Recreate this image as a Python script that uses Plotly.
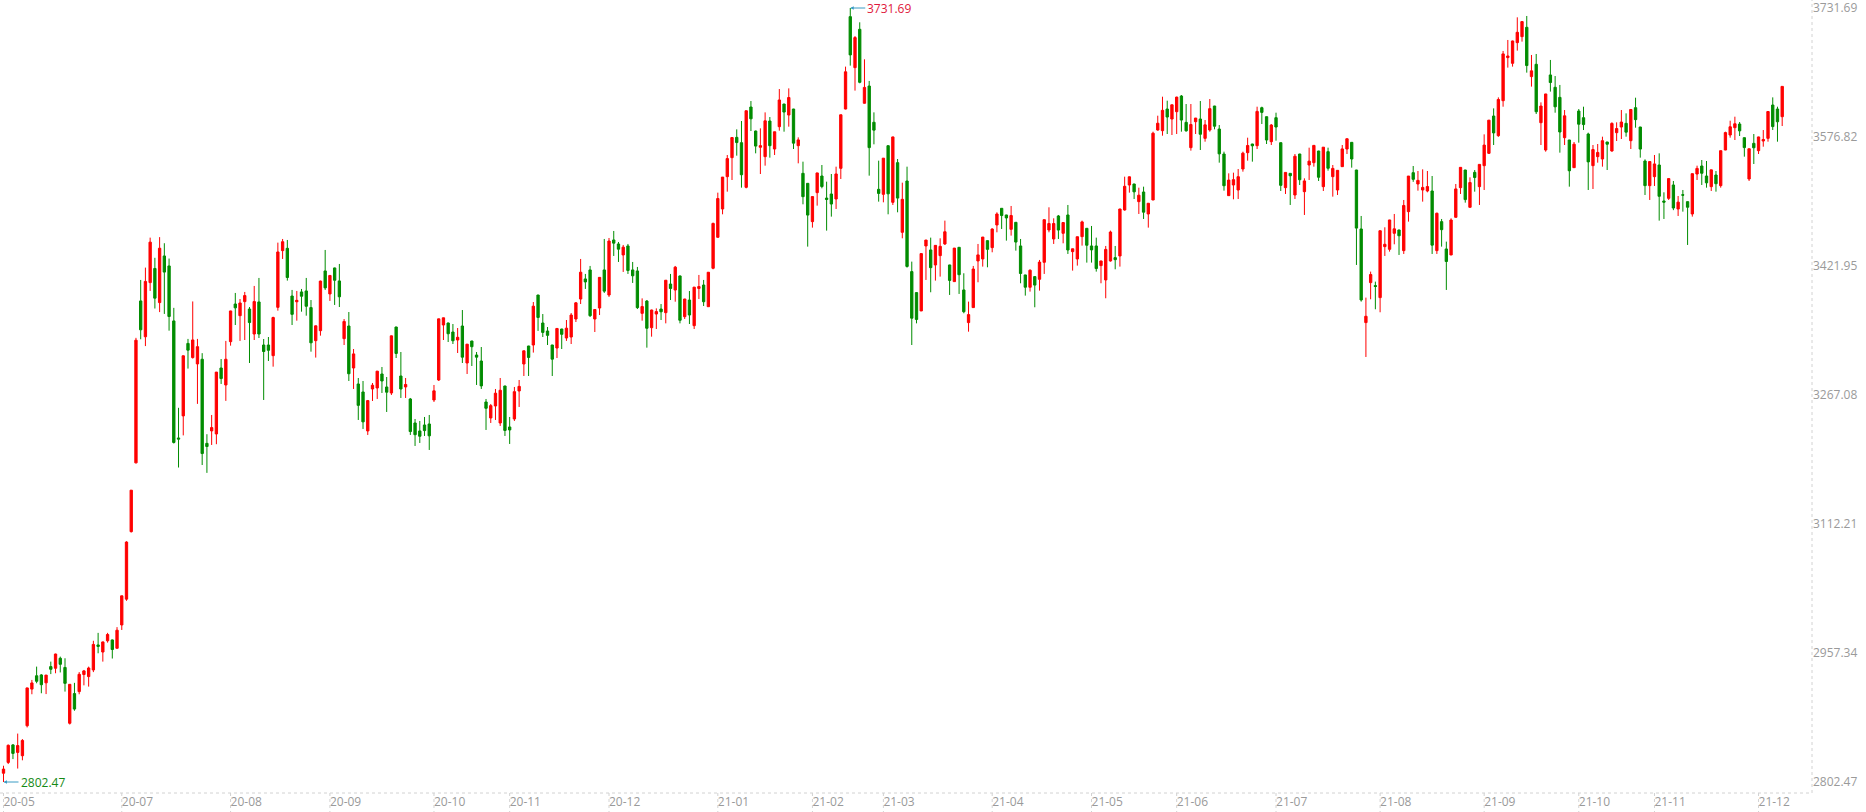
import pandas as pd
import plotly.graph_objects as go

# trading calendar: weekdays from 2020-05-25 to 2021-12-08 minus exchange holidays
START = "2020-05-25"
END = "2021-12-08"
HOLIDAYS = ["2020-06-25", "2020-06-26", "2020-10-01", "2020-10-02", "2020-10-05",
            "2020-10-06", "2020-10-07", "2020-10-08", "2021-01-01", "2021-02-11",
            "2021-02-12", "2021-02-15", "2021-02-16", "2021-02-17", "2021-04-05",
            "2021-05-03", "2021-05-04", "2021-05-05", "2021-06-14", "2021-09-20",
            "2021-09-21", "2021-10-01", "2021-10-04", "2021-10-05", "2021-10-06",
            "2021-10-07"]

OPEN = [
    2813.0, 2826.0, 2847.0, 2838.0, 2834.0, 2870.0, 2914.0, 2930.0, 2931.0, 2921.5,
    2941.0, 2939.0, 2951.0, 2940.0, 2873.0, 2908.6, 2911.0, 2931.5, 2929.0, 2937.0,
    2967.0, 2958.5, 2972.0, 2973.0, 2963.0, 2991.0, 3022.0, 3103.0, 3185.6, 3380.0,
    3337.0, 3402.0, 3419.0, 3378.0, 3434.0, 3422.0, 3356.0, 3215.5, 3242.0, 3329.0,
    3312.0, 3304.4, 3310.0, 3209.0,
    3224.0, 3220.3, 3299.5, 3279.1, 3331.1, 3376.3,
    3362.3, 3379.2, 3370.3, 3340.3, 3378.8, 3327.1, 3327.1, 3314.3, 3372.3, 3440.4,
    3443.2, 3385.9, 3379.0, 3390.8, 3392.0, 3372.0, 3332.3, 3344.3, 3416.0, 3388.4,
    3419.6, 3404.0, 3334.7, 3349.9, 3299.5, 3280.3, 3270.7, 3223.9, 3274.3, 3275.5,
    3292.3, 3276.7, 3269.5, 3348.7, 3289.9, 3276.7, 3262.3, 3233.5, 3223.9, 3231.1,
    3232.3, 3261.1, 3285.1, 3351.1, 3353.5, 3342.7, 3333.1, 3349.9, 3305.5, 3331.9,
    3315.1, 3307.9, 3258.7, 3239.5, 3253.9, 3233.5, 3277.9, 3228.7, 3238.3, 3271.9,
    3304.3, 3325.9, 3327.1, 3387.1, 3353.5, 3343.9, 3327.1, 3323.5, 3346.3, 3335.5,
    3336.7, 3358.3, 3382.3, 3406.4, 3417.2, 3358.3, 3371.5, 3417.2, 3387.1, 3453.2,
    3448.4, 3435.2, 3446.0, 3417.2, 3416.0,
    3365.1, 3379.9, 3347.9, 3364.3, 3370.3,
    3365.9, 3400.3, 3393.1, 3410.0, 3361.1, 3381.1, 3350.3, 3395.0, 3399.1, 3373.1,
    3419.2, 3456.4, 3490.4, 3529.2, 3552.0, 3576.4, 3570.0, 3516.4, 3612.8, 3584.0,
    3564.5, 3553.2, 3596.0, 3562.4, 3589.2, 3616.4, 3603.2, 3610.4, 3566.4, 3533.2,
    3521.2, 3475.2, 3510.0, 3530.0, 3503.5, 3508.4, 3502.4, 3539.2, 3610.4, 3721.3,
    3660.1, 3706.1, 3617.3, 3638.0, 3594.5, 3514.0, 3508.0, 3566.4, 3498.4, 3546.0,
    3462.4, 3524.0, 3415.2, 3390.0, 3368.0, 3446.0, 3441.2, 3423.2, 3434.4, 3448.4,
    3423.2, 3403.2, 3444.4, 3393.2, 3354.0, 3372.0, 3428.0, 3430.4, 3452.4, 3444.0,
    3471.2, 3491.2, 3483.2, 3466.0, 3474.4, 3446.0, 3411.2, 3396.4, 3409.2, 3406.0,
    3426.4, 3465.2, 3454.4, 3482.0, 3461.2,
    3483.2, 3439.2, 3430.4, 3457.2, 3467.2,
    3446.0, 3446.0, 3422.4, 3405.2, 3428.0, 3432.0, 3434.0, 3489.2, 3519.2, 3520.4,
    3499.2, 3510.8, 3484.4, 3501.2, 3585.2, 3584.4, 3610.4, 3598.4, 3607.2, 3626.0,
    3594.4, 3564.0, 3595.2, 3598.4, 3575.2, 3585.2, 3614.0, 3586.4, 3556.4, 3506.4,
    3519.2, 3513.2, 3538.4, 3558.0, 3568.4, 3566.4, 3612.0, 3601.2, 3571.2, 3600.0,
    3570.0, 3516.0, 3533.2, 3507.2, 3556.4, 3511.2, 3543.2, 3546.0, 3560.0, 3517.2,
    3559.2, 3529.2, 3513.2, 3541.2, 3562.4, 3570.4, 3537.2, 3466.4, 3354.0, 3402.0,
    3398.4, 3384.0, 3445.2, 3442.0, 3461.2, 3465.2, 3440.4, 3487.2, 3534.0, 3520.4,
    3513.2, 3512.0, 3512.0, 3440.4, 3475.2, 3442.4, 3435.2, 3480.4, 3516.0, 3537.2,
    3492.4, 3534.4, 3517.2, 3542.4, 3557.2, 3602.0,
    3578.4, 3620.4, 3672.1, 3665.3,
    3690.1, 3697.3, 3708.5, 3649.3, 3664.1, 3594.0, 3561.2, 3651.3, 3636.5, 3624.4,
    3576.0, 3573.2, 3540.0, 3608.0, 3600.0, 3580.4, 3542.4, 3553.2, 3550.4, 3570.8,
    3560.0, 3582.0, 3588.8, 3593.2, 3572.4, 3612.0, 3588.8, 3548.0, 3518.4, 3529.2,
    3543.2, 3500.0, 3503.2, 3519.2, 3490.4, 3507.5, 3499.2, 3484.4, 3532.4, 3542.0,
    3530.0, 3517.2, 3531.2, 3518.4, 3561.2, 3579.2, 3588.0, 3592.4, 3576.0, 3526.4,
    3569.2, 3560.4, 3572.0, 3575.2, 3615.2, 3610.4, 3601.2,
]

HIGH = [
    2822.0, 2847.5, 2848.0, 2860.6, 2854.0, 2915.6, 2925.0, 2941.0, 2932.0, 2931.0,
    2947.0, 2956.5, 2953.0, 2951.0, 2920.0, 2921.5, 2934.4, 2937.0, 2941.0, 2972.0,
    2981.5, 2971.0, 2981.5, 2973.5, 2988.4, 3026.0, 3091.5, 3153.0, 3335.7, 3405.2,
    3420.0, 3456.0, 3431.8, 3456.6, 3449.3, 3430.9, 3371.7, 3251.7, 3314.5, 3334.4,
    3379.4, 3334.4, 3317.3, 3220.0,
    3243.1, 3294.8, 3310.3, 3332.0, 3368.2, 3389.6,
    3382.3, 3390.8, 3372.7, 3398.0, 3407.6, 3334.3, 3336.7, 3361.1, 3450.0, 3454.4,
    3453.2, 3393.2, 3392.0, 3394.4, 3407.6, 3381.1, 3350.5, 3404.4, 3441.2, 3410.8,
    3420.0, 3424.4, 3358.3, 3366.7, 3322.3, 3287.5, 3283.9, 3261.1, 3281.5, 3296.0,
    3300.7, 3288.7, 3338.5, 3349.0, 3318.7, 3287.5, 3263.5, 3238.3, 3235.9, 3240.7,
    3243.1, 3279.1, 3358.7, 3359.9, 3354.0, 3352.3, 3347.5, 3369.1, 3328.3, 3332.1,
    3318.7, 3324.7, 3262.3, 3256.3, 3274.3, 3287.5, 3278.1, 3240.7, 3276.7, 3285.1,
    3320.3, 3326.1, 3378.7, 3387.3, 3364.3, 3348.7, 3327.3, 3347.1, 3346.5, 3357.1,
    3365.5, 3378.7, 3430.4, 3412.4, 3422.0, 3369.9, 3408.5, 3454.4, 3455.6, 3464.0,
    3450.8, 3447.2, 3448.4, 3426.8, 3420.8,
    3383.1, 3381.1, 3369.5, 3371.1, 3376.3,
    3405.0, 3412.4, 3422.0, 3410.5, 3382.5, 3391.9, 3396.8, 3411.2, 3405.2, 3414.6,
    3474.0, 3510.0, 3528.8, 3555.2, 3576.3, 3586.0, 3596.0, 3608.6, 3620.0, 3584.5,
    3587.2, 3606.4, 3600.8, 3583.2, 3634.4, 3616.6, 3635.2, 3610.6, 3576.4, 3547.2,
    3521.4, 3505.4, 3533.8, 3543.2, 3523.2, 3532.4, 3541.2, 3603.6, 3661.3, 3731.69,
    3698.0, 3714.5, 3670.1, 3644.1, 3606.4, 3548.4, 3551.6, 3566.6, 3577.2, 3550.4,
    3522.0, 3541.2, 3427.2, 3390.2, 3437.0, 3453.3, 3456.0, 3446.8, 3455.2, 3476.4,
    3423.4, 3443.6, 3444.6, 3413.2, 3379.2, 3422.0, 3448.4, 3456.8, 3452.6, 3467.2,
    3486.4, 3491.4, 3483.4, 3494.0, 3474.6, 3454.4, 3411.4, 3418.0, 3409.4, 3429.2,
    3477.6, 3492.4, 3479.2, 3483.2, 3474.3,
    3495.2, 3442.8, 3457.2, 3476.4, 3467.4,
    3470.0, 3456.0, 3428.2, 3446.0, 3464.4, 3446.0, 3490.6, 3529.2, 3529.4, 3520.6,
    3516.0, 3517.2, 3497.5, 3583.2, 3602.4, 3625.2, 3620.4, 3615.6, 3625.2, 3627.2,
    3616.4, 3616.4, 3599.7, 3620.0, 3597.2, 3622.4, 3614.2, 3591.2, 3559.2, 3533.2,
    3534.0, 3538.4, 3559.2, 3576.0, 3568.6, 3613.2, 3613.2, 3601.4, 3592.4, 3606.0,
    3570.2, 3534.5, 3533.4, 3556.4, 3556.6, 3527.2, 3564.0, 3567.0, 3560.2, 3564.8,
    3564.0, 3543.2, 3537.2, 3567.2, 3575.0, 3570.6, 3537.4, 3482.0, 3384.0, 3415.2,
    3403.2, 3464.5, 3468.4, 3477.4, 3484.4, 3465.4, 3501.2, 3530.0, 3542.0, 3536.0,
    3538.0, 3536.0, 3530.0, 3486.0, 3478.4, 3451.2, 3479.2, 3520.4, 3540.5, 3537.4,
    3528.4, 3537.2, 3544.0, 3580.0, 3597.2, 3611.2,
    3624.4, 3680.1, 3693.3, 3692.5,
    3720.5, 3715.5, 3722.1, 3675.3, 3676.5, 3618.4, 3628.6, 3669.3, 3650.0, 3639.3,
    3609.2, 3573.4, 3570.8, 3610.4, 3613.2, 3582.0, 3567.2, 3568.4, 3577.2, 3571.0,
    3594.4, 3594.4, 3609.2, 3605.2, 3610.0, 3624.0, 3589.0, 3550.0, 3547.5, 3555.2,
    3557.2, 3510.4, 3527.0, 3524.0, 3506.0, 3513.2, 3499.4, 3533.0, 3542.4, 3549.2,
    3548.0, 3537.5, 3536.0, 3560.5, 3583.2, 3596.4, 3601.2, 3594.8, 3576.2, 3562.8,
    3580.4, 3577.2, 3585.2, 3607.5, 3624.4, 3613.2, 3637.6,
]

LOW = [
    2802.47, 2824.0, 2830.0, 2818.6, 2828.5, 2868.0, 2907.8, 2921.0, 2909.0, 2908.0,
    2932.0, 2933.0, 2934.0, 2911.0, 2871.5, 2888.0, 2907.8, 2918.5, 2917.0, 2934.4,
    2957.0, 2947.0, 2969.8, 2950.7, 2962.5, 2985.0, 3020.0, 3102.0, 3185.0, 3334.0,
    3325.8, 3392.0, 3370.9, 3366.6, 3364.4, 3344.3, 3208.8, 3180.0, 3218.6, 3298.8,
    3310.8, 3256.4, 3183.0, 3173.6,
    3207.1, 3208.0, 3280.3, 3260.0, 3326.3, 3351.1,
    3332.0, 3333.1, 3305.5, 3333.1, 3335.5, 3261.1, 3307.9, 3301.1, 3368.3, 3430.4,
    3404.4, 3351.1, 3356.3, 3367.1, 3362.3, 3319.1, 3312.0, 3338.3, 3393.2, 3380.0,
    3375.2, 3372.7, 3327.1, 3283.9, 3274.3, 3237.1, 3226.3, 3219.1, 3259.9, 3262.3,
    3269.5, 3246.7, 3267.1, 3311.5, 3263.5, 3263.5, 3219.1, 3205.9, 3209.5, 3217.9,
    3201.1, 3258.7, 3283.9, 3333.1, 3330.7, 3328.3, 3317.5, 3305.5, 3292.3, 3301.9,
    3279.1, 3274.3, 3225.1, 3233.5, 3237.1, 3229.9, 3217.9, 3208.3, 3235.9, 3252.7,
    3289.9, 3289.9, 3318.0, 3344.0, 3336.7, 3327.1, 3289.9, 3311.5, 3322.3, 3332.0,
    3328.3, 3354.7, 3376.3, 3394.4, 3360.7, 3342.7, 3363.1, 3389.6, 3384.8, 3434.0,
    3426.8, 3414.8, 3412.4, 3401.6, 3370.3,
    3356.3, 3323.9, 3337.1, 3346.3, 3357.1,
    3353.1, 3381.1, 3379.1, 3353.1, 3358.3, 3352.3, 3346.3, 3382.3, 3373.9, 3373.0,
    3418.0, 3456.0, 3484.0, 3511.2, 3525.2, 3554.4, 3516.0, 3515.2, 3584.0, 3557.2,
    3532.4, 3542.4, 3552.0, 3555.2, 3584.4, 3583.2, 3589.2, 3562.4, 3545.2, 3496.0,
    3445.2, 3468.0, 3494.4, 3515.2, 3464.4, 3481.2, 3490.4, 3526.4, 3610.0, 3662.5,
    3632.5, 3641.3, 3617.0, 3530.4, 3568.0, 3499.2, 3498.4, 3484.0, 3495.2, 3486.4,
    3455.2, 3420.0, 3327.1, 3353.1, 3367.8, 3405.2, 3390.4, 3404.4, 3409.2, 3447.2,
    3387.2, 3403.0, 3388.4, 3365.2, 3343.1, 3371.8, 3402.4, 3421.2, 3420.4, 3438.4,
    3462.4, 3466.4, 3452.4, 3458.4, 3440.4, 3401.2, 3386.4, 3391.2, 3372.4, 3392.4,
    3412.4, 3462.4, 3448.4, 3454.4, 3449.2,
    3436.4, 3416.4, 3422.4, 3446.4, 3426.0,
    3426.0, 3415.2, 3401.2, 3383.2, 3427.2, 3418.0, 3421.2, 3488.4, 3510.0, 3502.4,
    3484.4, 3478.4, 3468.0, 3501.0, 3584.4, 3578.4, 3580.4, 3579.2, 3580.4, 3583.2,
    3583.2, 3560.4, 3580.4, 3561.2, 3571.2, 3583.2, 3586.0, 3546.0, 3512.4, 3506.2,
    3502.0, 3502.4, 3535.2, 3548.4, 3547.2, 3562.4, 3592.4, 3568.4, 3567.2, 3572.4,
    3512.0, 3508.4, 3495.2, 3502.4, 3519.2, 3483.2, 3525.2, 3541.2, 3524.0, 3512.0,
    3536.4, 3505.2, 3507.2, 3541.0, 3556.4, 3540.0, 3423.2, 3379.2, 3312.72, 3382.0,
    3370.0, 3366.4, 3434.0, 3439.2, 3448.0, 3435.2, 3436.4, 3475.2, 3523.0, 3512.4,
    3499.2, 3510.4, 3436.4, 3436.4, 3445.2, 3393.2, 3435.0, 3480.2, 3508.4, 3498.0,
    3492.2, 3511.2, 3495.2, 3513.2, 3556.4, 3567.2,
    3577.0, 3613.2, 3660.1, 3661.3,
    3680.5, 3691.3, 3654.1, 3637.3, 3604.4, 3567.2, 3559.2, 3631.3, 3606.0, 3558.0,
    3567.2, 3517.2, 3539.8, 3570.0, 3585.2, 3513.2, 3514.4, 3546.0, 3541.2, 3537.2,
    3559.2, 3572.0, 3574.4, 3577.2, 3562.4, 3588.0, 3552.0, 3507.2, 3501.2, 3518.0,
    3476.4, 3478.4, 3501.2, 3489.0, 3482.0, 3487.2, 3447.2, 3481.2, 3525.2, 3519.2,
    3516.0, 3512.0, 3511.2, 3516.0, 3561.0, 3576.0, 3573.2, 3578.0, 3553.2, 3524.0,
    3544.4, 3556.4, 3565.2, 3571.2, 3585.2, 3571.2, 3590.0,
]

CLOSE = [
    2817.97, 2846.55, 2836.80, 2846.22, 2852.35, 2915.43, 2921.40, 2923.37, 2919.25, 2930.80,
    2937.77, 2956.11, 2943.75, 2920.90, 2919.74, 2890.03, 2931.75, 2935.87, 2939.32, 2967.63,
    2965.27, 2970.62, 2979.55, 2961.52, 2984.67, 3025.98, 3090.57, 3152.81, 3332.88, 3345.34,
    3403.44, 3450.59, 3383.32, 3443.29, 3414.62, 3361.30, 3210.10, 3214.13, 3314.15, 3320.90,
    3333.16, 3325.11, 3196.77, 3205.23,
    3227.96, 3294.55, 3286.82, 3310.01, 3367.97, 3371.69,
    3377.56, 3386.46, 3354.04, 3379.25, 3340.29, 3319.27, 3320.73, 3360.10, 3438.80, 3451.09,
    3408.13, 3363.90, 3380.68, 3385.64, 3373.58, 3329.74, 3350.11, 3403.81, 3395.68, 3410.61,
    3404.80, 3384.98, 3355.37, 3292.59, 3316.42, 3254.63, 3234.82, 3260.35, 3278.81, 3295.68,
    3283.92, 3270.44, 3338.09, 3316.94, 3274.30, 3279.71, 3223.18, 3219.42, 3217.53, 3224.36,
    3218.05, 3272.08, 3358.47, 3359.75, 3340.61, 3332.18, 3336.36, 3312.50, 3328.10, 3325.03,
    3312.50, 3278.00, 3251.12, 3254.32, 3269.24, 3272.74, 3224.53, 3225.12, 3271.07, 3277.44,
    3320.13, 3312.16, 3373.73, 3360.15, 3342.20, 3338.68, 3310.10, 3346.97, 3339.90, 3347.30,
    3363.09, 3377.73, 3414.49, 3402.82, 3362.33, 3369.73, 3408.31, 3391.76, 3451.94, 3449.38,
    3442.14, 3444.58, 3416.60, 3410.18, 3371.96,
    3373.28, 3347.19, 3369.12, 3367.23, 3366.98,
    3404.87, 3394.90, 3420.57, 3356.78, 3382.32, 3363.11, 3396.56, 3397.29, 3379.04, 3414.45,
    3473.07, 3502.96, 3528.68, 3550.88, 3576.20, 3570.11, 3531.50, 3608.34, 3598.65, 3565.90,
    3566.38, 3596.22, 3566.38, 3583.09, 3621.26, 3606.75, 3624.24, 3569.43, 3573.34, 3505.18,
    3483.07, 3505.28, 3533.68, 3517.31, 3501.86, 3496.33, 3532.44, 3603.49, 3655.09, 3675.36,
    3696.17, 3642.44, 3636.36, 3564.08, 3585.05, 3509.08, 3551.40, 3508.59, 3576.90, 3503.49,
    3501.99, 3421.41, 3359.29, 3357.74, 3436.83, 3453.08, 3419.95, 3446.73, 3445.55, 3463.07,
    3404.66, 3443.44, 3411.51, 3367.06, 3363.59, 3418.33, 3435.30, 3456.68, 3441.91, 3466.33,
    3484.39, 3482.50, 3479.63, 3482.56, 3450.68, 3412.95, 3396.47, 3416.83, 3398.99, 3426.62,
    3477.55, 3472.94, 3472.93, 3465.11, 3474.17,
    3441.17, 3442.61, 3457.07, 3474.90, 3446.86,
    3441.28, 3418.87, 3427.99, 3441.85, 3462.75, 3429.54, 3490.38, 3517.62, 3529.01, 3510.96,
    3506.94, 3486.56, 3497.28, 3581.34, 3593.36, 3608.85, 3600.78, 3615.48, 3624.71, 3597.14,
    3584.22, 3591.84, 3599.54, 3580.11, 3591.40, 3610.86, 3589.75, 3556.56, 3518.33, 3525.10,
    3525.60, 3529.18, 3557.41, 3566.65, 3566.22, 3607.56, 3606.37, 3573.18, 3591.20, 3588.78,
    3518.76, 3534.32, 3530.26, 3553.72, 3525.50, 3524.09, 3547.84, 3566.75, 3528.50, 3564.59,
    3539.30, 3539.12, 3536.79, 3562.50, 3574.73, 3550.40, 3467.44, 3381.18, 3361.59, 3411.72,
    3397.36, 3464.29, 3447.99, 3477.22, 3466.56, 3458.23, 3494.63, 3529.93, 3526.00, 3524.74,
    3516.30, 3517.34, 3446.98, 3485.29, 3465.55, 3427.33, 3477.13, 3514.47, 3540.38, 3501.66,
    3522.16, 3528.15, 3543.94, 3567.10, 3597.04, 3581.73,
    3621.86, 3676.59, 3674.10, 3692.10,
    3702.50, 3715.37, 3662.60, 3656.22, 3607.09, 3613.97, 3628.49, 3642.22, 3613.07, 3582.83,
    3602.22, 3536.29, 3568.17, 3592.17, 3591.71, 3546.94, 3561.76, 3558.28, 3572.37, 3568.14,
    3593.15, 3587.00, 3594.78, 3582.60, 3609.86, 3597.64, 3562.31, 3518.42, 3547.34, 3544.48,
    3505.63, 3498.54, 3526.87, 3491.57, 3498.63, 3507.00, 3492.46, 3532.79, 3539.10, 3533.30,
    3521.79, 3537.37, 3520.71, 3560.37, 3582.08, 3589.09, 3592.70, 3584.18, 3564.09, 3562.70,
    3563.89, 3576.89, 3573.84, 3607.43, 3589.31, 3595.09, 3637.57,
]

# x axis labels, first trading day of each month (20-06 is dropped, too close to 20-05)
TICK_LABELS = ["20-05", "20-07", "20-08", "20-09", "20-10", "20-11", "20-12",
               "21-01", "21-02", "21-03", "21-04", "21-05", "21-06", "21-07",
               "21-08", "21-09", "21-10", "21-11", "21-12"]
# right axis labels
Y_TICKS = [2802.47, 2957.34, 3112.21, 3267.08, 3421.95, 3576.82, 3731.69]

RED = "#FF0000"
GREEN = "#008C00"
GRAY = "#9a9a9a"
DOT = "#d2d2d2"

dates = pd.bdate_range(START, END, freq="C", holidays=HOLIDAYS).strftime("%Y-%m-%d").tolist()
assert len(dates) == len(CLOSE) == len(OPEN) == len(HIGH) == len(LOW)

tickvals = []
for lab in TICK_LABELS:
    prefix = "20" + lab[:2] + "-" + lab[3:]
    tickvals.append(next(d for d in dates if d.startswith(prefix)))

fig = go.Figure()
fig.add_trace(go.Candlestick(
    x=dates, open=OPEN, high=HIGH, low=LOW, close=CLOSE,
    increasing=dict(line=dict(color=RED, width=1), fillcolor=RED),
    decreasing=dict(line=dict(color=GREEN, width=1), fillcolor=GREEN),
    whiskerwidth=0, showlegend=False,
))

# max / min markers
i_max = HIGH.index(max(HIGH))
i_min = LOW.index(min(LOW))
fig.add_annotation(x=dates[i_max], y=HIGH[i_max], text="%.2f" % HIGH[i_max],
                   showarrow=True, arrowhead=2, arrowsize=0.7, arrowwidth=1,
                   arrowcolor="#3a9cc4", ax=15, ay=0, xanchor="left",
                   font=dict(color="#E0183C", size=12), standoff=0)
fig.add_annotation(x=dates[i_min], y=LOW[i_min], text="%.2f" % LOW[i_min],
                   showarrow=True, arrowhead=2, arrowsize=0.7, arrowwidth=1,
                   arrowcolor="#3a9cc4", ax=15, ay=0, xanchor="left",
                   font=dict(color="#158A15", size=12), standoff=0)

# dotted frame on bottom and right, dotted tick marks
shapes = [
    dict(type="line", xref="paper", yref="paper", x0=0, x1=1, y0=0, y1=0,
         line=dict(color=DOT, width=1, dash="dot")),
    dict(type="line", xref="paper", yref="paper", x0=1, x1=1, y0=0, y1=1,
         line=dict(color=DOT, width=1, dash="dot")),
]
for tv in tickvals:
    shapes.append(dict(type="line", xref="x", yref="paper", x0=tv, x1=tv, y0=0, y1=-0.025,
                       line=dict(color=DOT, width=1, dash="dot")))

fig.update_layout(
    width=1866, height=812,
    margin=dict(l=0, r=54, t=0, b=19),
    paper_bgcolor="white", plot_bgcolor="white",
    font=dict(family="Open Sans", size=12, color=GRAY),
    shapes=shapes,
    hovermode="x",
)
fig.update_xaxes(
    type="category", range=[-0.74, len(dates) - 1 + 6.3],
    tickvals=tickvals, ticktext=TICK_LABELS, ticklabelposition="outside right",
    showgrid=False, zeroline=False, showline=False, ticks="",
    rangeslider=dict(visible=False), tickfont=dict(color=GRAY, size=12),
)
fig.update_yaxes(
    side="right", range=[2789.26, 3741.29],
    tickvals=Y_TICKS, ticktext=["%.2f" % v for v in Y_TICKS],
    showgrid=False, zeroline=False, showline=False, ticks="",
    ticklabeloverflow="allow", automargin=False,
    tickfont=dict(color=GRAY, size=12),
)

fig.write_html("out.html", config={"displayModeBar": False},
               post_script="document.body.style.margin='0';")
